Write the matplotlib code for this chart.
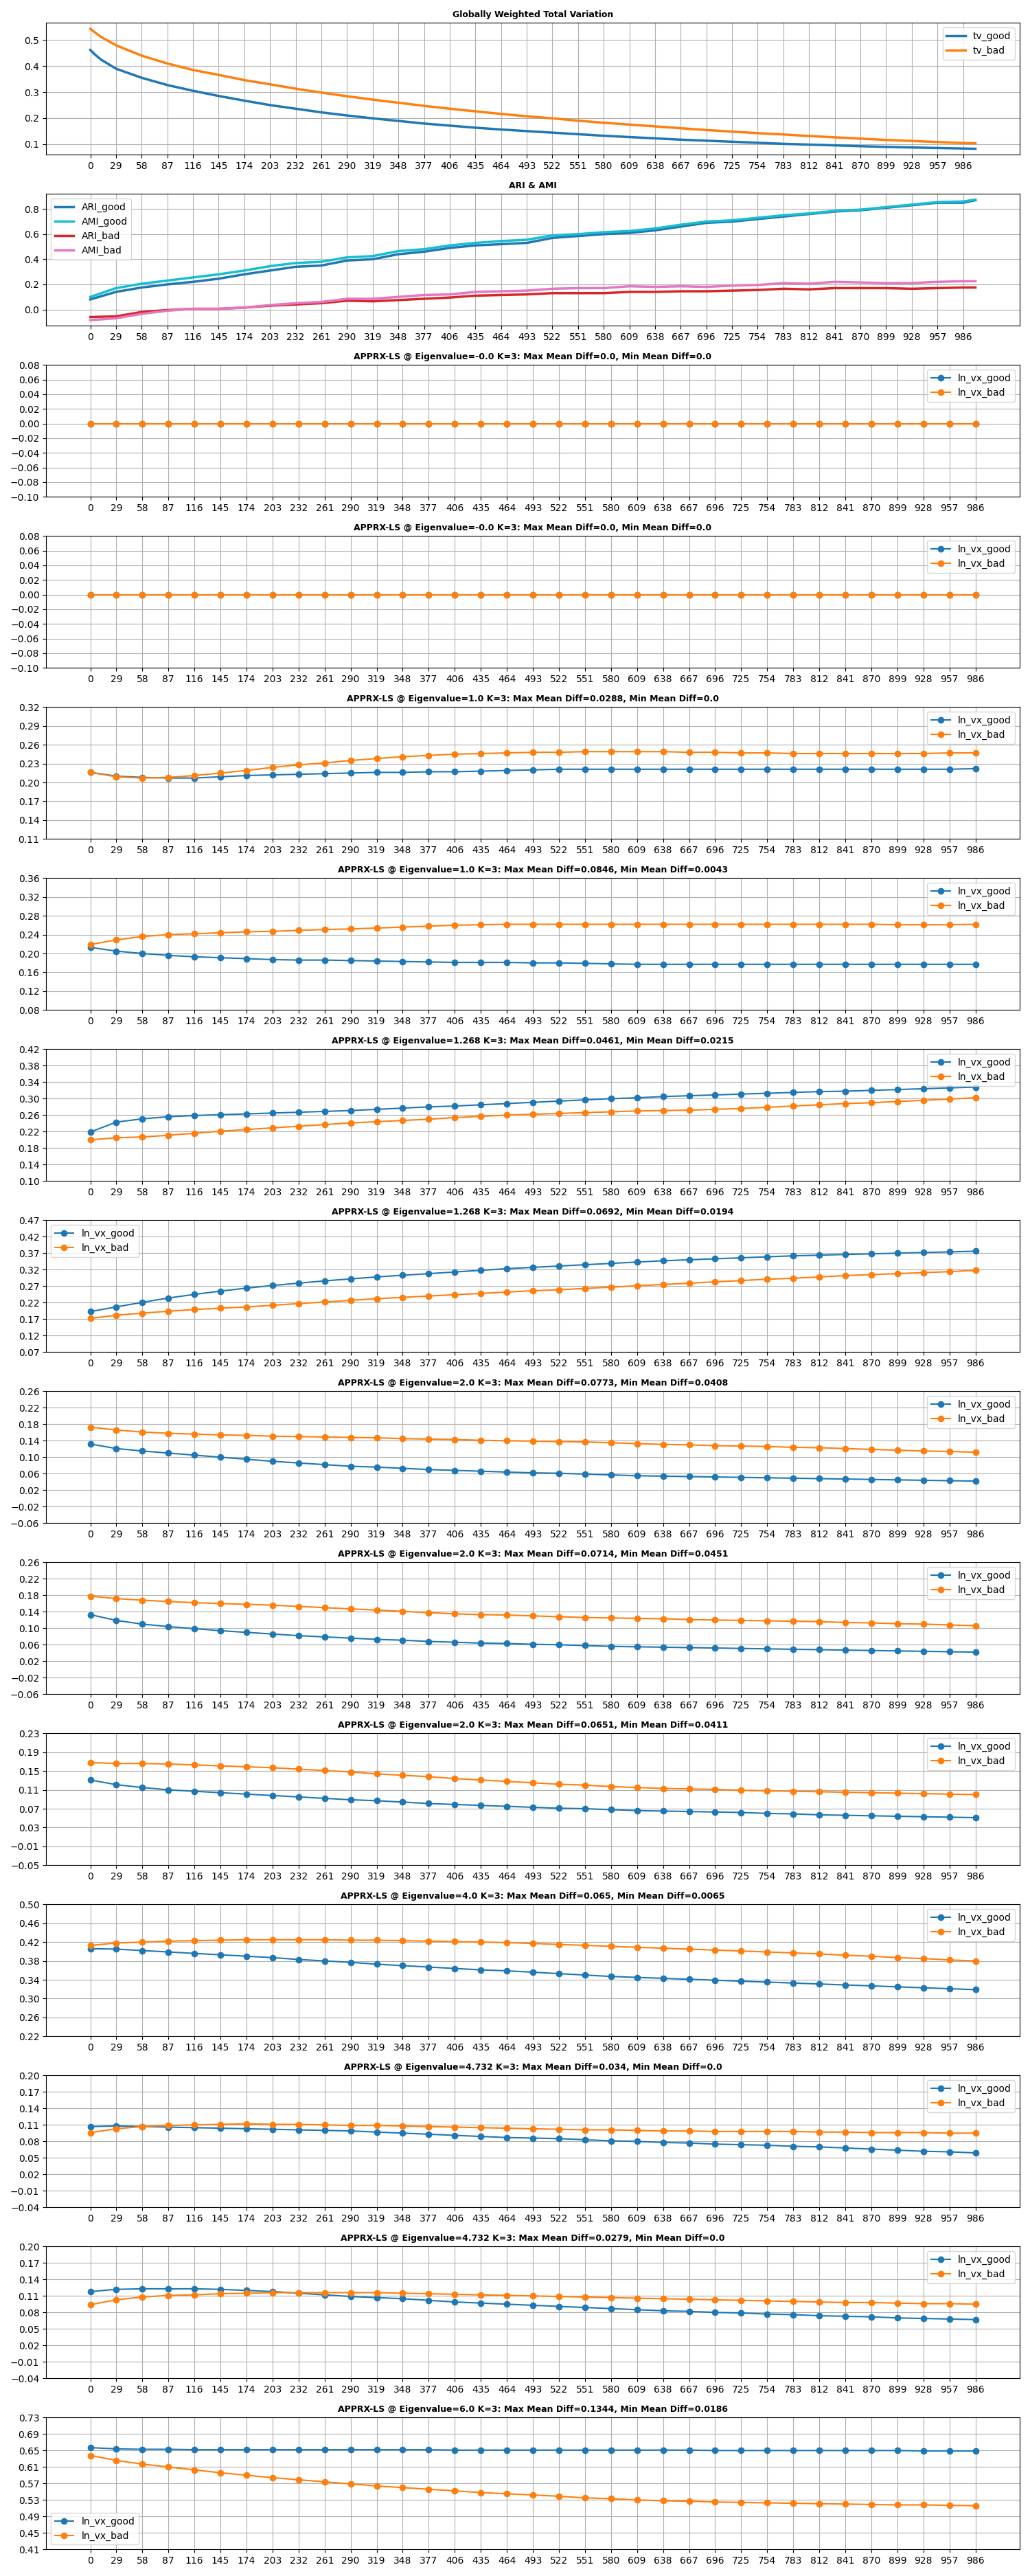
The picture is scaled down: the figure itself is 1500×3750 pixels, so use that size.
import numpy as np
import matplotlib
matplotlib.use("Agg")
import matplotlib.pyplot as plt

# --- data ---
tv_x = [0, 5, 12, 29, 58, 87, 116, 145, 174, 203, 232, 261, 290, 319, 348, 377, 406, 435, 464, 493,
        522, 551, 580, 609, 638, 667, 696, 725, 754, 783, 812, 841, 870, 899, 928, 957, 986, 1000]
tv_good = [0.462, 0.445, 0.425, 0.39, 0.355, 0.327, 0.305, 0.285, 0.267, 0.250, 0.236, 0.222, 0.210, 0.199,
           0.189, 0.179, 0.171, 0.163, 0.156, 0.150, 0.144, 0.138, 0.132, 0.127, 0.122, 0.117, 0.113,
           0.109, 0.105, 0.101, 0.098, 0.095, 0.092, 0.089, 0.087, 0.085, 0.083, 0.082]
tv_bad = [0.543, 0.530, 0.512, 0.48, 0.44, 0.41, 0.385, 0.366, 0.346, 0.330, 0.313, 0.298, 0.284, 0.271,
          0.259, 0.247, 0.236, 0.226, 0.216, 0.207, 0.199, 0.190, 0.182, 0.175, 0.168, 0.161, 0.154,
          0.148, 0.142, 0.137, 0.131, 0.126, 0.121, 0.116, 0.112, 0.108, 0.104, 0.103]

ari_x = tv_x[:1] + tv_x[3:]
ari_good = [0.08, 0.14, 0.175, 0.20, 0.22, 0.245, 0.28, 0.31, 0.34, 0.35, 0.39, 0.40, 0.44, 0.46, 0.49,
            0.51, 0.52, 0.53, 0.57, 0.585, 0.60, 0.61, 0.63, 0.66, 0.69, 0.70, 0.72, 0.74, 0.76, 0.78,
            0.79, 0.81, 0.83, 0.85, 0.85, 0.87]
ami_good = [0.10, 0.17, 0.205, 0.23, 0.255, 0.28, 0.31, 0.345, 0.37, 0.38, 0.415, 0.425, 0.465, 0.48,
            0.51, 0.53, 0.545, 0.555, 0.59, 0.60, 0.615, 0.625, 0.645, 0.675, 0.70, 0.71, 0.73, 0.75,
            0.765, 0.785, 0.795, 0.815, 0.835, 0.855, 0.86, 0.875]
ari_bad = [-0.06, -0.055, -0.02, -0.005, 0.005, 0.005, 0.015, 0.03, 0.04, 0.05, 0.07, 0.065, 0.075,
           0.085, 0.095, 0.11, 0.115, 0.12, 0.13, 0.13, 0.13, 0.14, 0.14, 0.145, 0.145, 0.15, 0.155,
           0.165, 0.16, 0.17, 0.17, 0.17, 0.165, 0.17, 0.175, 0.175]
ami_bad = [-0.085, -0.07, -0.035, -0.01, 0.005, 0.005, 0.015, 0.035, 0.05, 0.06, 0.085, 0.085, 0.10,
           0.115, 0.12, 0.14, 0.145, 0.15, 0.165, 0.17, 0.17, 0.185, 0.18, 0.185, 0.18, 0.19, 0.195,
           0.21, 0.205, 0.22, 0.215, 0.21, 0.21, 0.22, 0.225, 0.225]

steps = list(range(0, 987, 29))

titles = [
    "APPRX-LS @ Eigenvalue=-0.0 K=3: Max Mean Diff=0.0, Min Mean Diff=0.0",
    "APPRX-LS @ Eigenvalue=-0.0 K=3: Max Mean Diff=0.0, Min Mean Diff=0.0",
    "APPRX-LS @ Eigenvalue=1.0 K=3: Max Mean Diff=0.0288, Min Mean Diff=0.0",
    "APPRX-LS @ Eigenvalue=1.0 K=3: Max Mean Diff=0.0846, Min Mean Diff=0.0043",
    "APPRX-LS @ Eigenvalue=1.268 K=3: Max Mean Diff=0.0461, Min Mean Diff=0.0215",
    "APPRX-LS @ Eigenvalue=1.268 K=3: Max Mean Diff=0.0692, Min Mean Diff=0.0194",
    "APPRX-LS @ Eigenvalue=2.0 K=3: Max Mean Diff=0.0773, Min Mean Diff=0.0408",
    "APPRX-LS @ Eigenvalue=2.0 K=3: Max Mean Diff=0.0714, Min Mean Diff=0.0451",
    "APPRX-LS @ Eigenvalue=2.0 K=3: Max Mean Diff=0.0651, Min Mean Diff=0.0411",
    "APPRX-LS @ Eigenvalue=4.0 K=3: Max Mean Diff=0.065, Min Mean Diff=0.0065",
    "APPRX-LS @ Eigenvalue=4.732 K=3: Max Mean Diff=0.034, Min Mean Diff=0.0",
    "APPRX-LS @ Eigenvalue=4.732 K=3: Max Mean Diff=0.0279, Min Mean Diff=0.0",
    "APPRX-LS @ Eigenvalue=6.0 K=3: Max Mean Diff=0.1344, Min Mean Diff=0.0186",
]

zeros = [0.0] * 35
good_vals = [
    zeros, zeros,
    [0.216, 0.210, 0.208, 0.207, 0.207, 0.209, 0.211, 0.212, 0.213, 0.214, 0.215, 0.216, 0.216, 0.217, 0.217,
     0.218, 0.219, 0.220, 0.221, 0.221, 0.221, 0.221, 0.221, 0.221, 0.221, 0.221, 0.221, 0.221, 0.221, 0.221,
     0.221, 0.221, 0.221, 0.221, 0.222],
    [0.213, 0.205, 0.200, 0.196, 0.193, 0.191, 0.189, 0.187, 0.186, 0.186, 0.185, 0.184, 0.183, 0.182, 0.181,
     0.181, 0.181, 0.180, 0.180, 0.179, 0.178, 0.177, 0.177, 0.177, 0.177, 0.177, 0.177, 0.177, 0.177, 0.177,
     0.177, 0.177, 0.177, 0.177, 0.177],
    [0.219, 0.243, 0.251, 0.256, 0.259, 0.261, 0.263, 0.265, 0.267, 0.269, 0.271, 0.274, 0.277, 0.280, 0.282,
     0.285, 0.288, 0.291, 0.294, 0.297, 0.300, 0.302, 0.305, 0.307, 0.309, 0.311, 0.313, 0.315, 0.317, 0.318,
     0.320, 0.322, 0.324, 0.326, 0.328],
    [0.193, 0.207, 0.221, 0.234, 0.245, 0.255, 0.264, 0.272, 0.279, 0.286, 0.292, 0.298, 0.303, 0.308, 0.313,
     0.318, 0.323, 0.327, 0.331, 0.335, 0.339, 0.343, 0.347, 0.350, 0.353, 0.356, 0.359, 0.362, 0.364, 0.366,
     0.368, 0.370, 0.372, 0.374, 0.376],
    [0.132, 0.121, 0.115, 0.110, 0.105, 0.100, 0.095, 0.090, 0.086, 0.082, 0.078, 0.076, 0.073, 0.070, 0.068,
     0.066, 0.064, 0.062, 0.061, 0.059, 0.057, 0.055, 0.054, 0.053, 0.052, 0.051, 0.050, 0.049, 0.048, 0.047,
     0.046, 0.045, 0.044, 0.043, 0.042],
    [0.133, 0.119, 0.110, 0.104, 0.099, 0.094, 0.090, 0.086, 0.082, 0.079, 0.076, 0.073, 0.071, 0.068, 0.066,
     0.064, 0.063, 0.061, 0.060, 0.058, 0.056, 0.055, 0.054, 0.053, 0.052, 0.051, 0.050, 0.049, 0.048, 0.047,
     0.046, 0.045, 0.044, 0.043, 0.042],
    [0.131, 0.121, 0.115, 0.110, 0.107, 0.104, 0.101, 0.098, 0.095, 0.092, 0.089, 0.087, 0.084, 0.081, 0.079,
     0.077, 0.075, 0.073, 0.071, 0.070, 0.068, 0.066, 0.065, 0.064, 0.063, 0.062, 0.060, 0.059, 0.057, 0.056,
     0.055, 0.054, 0.053, 0.052, 0.051],
    [0.406, 0.405, 0.402, 0.399, 0.396, 0.393, 0.390, 0.387, 0.383, 0.380, 0.377, 0.373, 0.370, 0.367, 0.364,
     0.361, 0.359, 0.356, 0.353, 0.350, 0.347, 0.345, 0.343, 0.341, 0.339, 0.337, 0.335, 0.333, 0.331, 0.329,
     0.327, 0.325, 0.323, 0.321, 0.319],
    [0.107, 0.108, 0.107, 0.106, 0.105, 0.104, 0.103, 0.102, 0.101, 0.100, 0.099, 0.097, 0.095, 0.093, 0.091,
     0.089, 0.087, 0.086, 0.085, 0.083, 0.081, 0.080, 0.078, 0.077, 0.075, 0.074, 0.073, 0.071, 0.070, 0.068,
     0.066, 0.064, 0.062, 0.061, 0.059],
    [0.118, 0.122, 0.123, 0.123, 0.123, 0.122, 0.120, 0.118, 0.115, 0.112, 0.109, 0.107, 0.105, 0.102, 0.099,
     0.097, 0.095, 0.093, 0.091, 0.089, 0.087, 0.085, 0.083, 0.082, 0.080, 0.079, 0.077, 0.076, 0.074, 0.073,
     0.072, 0.070, 0.069, 0.068, 0.067],
    [0.657, 0.654, 0.653, 0.653, 0.652, 0.652, 0.652, 0.652, 0.652, 0.652, 0.652, 0.652, 0.652, 0.652, 0.651,
     0.651, 0.651, 0.651, 0.651, 0.651, 0.651, 0.651, 0.651, 0.651, 0.650, 0.650, 0.650, 0.650, 0.650, 0.650,
     0.650, 0.650, 0.649, 0.649, 0.649],
]
bad_vals = [
    zeros, zeros,
    [0.216, 0.209, 0.207, 0.208, 0.211, 0.215, 0.219, 0.224, 0.228, 0.231, 0.235, 0.238, 0.241, 0.243, 0.245,
     0.246, 0.247, 0.248, 0.248, 0.249, 0.249, 0.249, 0.249, 0.248, 0.248, 0.247, 0.247, 0.246, 0.246, 0.246,
     0.246, 0.246, 0.246, 0.247, 0.247],
    [0.219, 0.229, 0.236, 0.240, 0.242, 0.244, 0.246, 0.247, 0.249, 0.251, 0.252, 0.254, 0.256, 0.258, 0.260,
     0.261, 0.262, 0.262, 0.262, 0.262, 0.262, 0.262, 0.262, 0.262, 0.262, 0.262, 0.262, 0.262, 0.262, 0.262,
     0.262, 0.261, 0.261, 0.261, 0.262],
    [0.200, 0.205, 0.207, 0.211, 0.216, 0.221, 0.225, 0.229, 0.233, 0.237, 0.241, 0.244, 0.247, 0.250, 0.254,
     0.257, 0.260, 0.262, 0.264, 0.266, 0.268, 0.270, 0.271, 0.272, 0.274, 0.276, 0.279, 0.282, 0.285, 0.288,
     0.290, 0.293, 0.296, 0.299, 0.302],
    [0.172, 0.182, 0.188, 0.194, 0.199, 0.203, 0.207, 0.212, 0.217, 0.222, 0.227, 0.232, 0.236, 0.240, 0.244,
     0.248, 0.252, 0.256, 0.259, 0.263, 0.267, 0.271, 0.275, 0.279, 0.283, 0.287, 0.291, 0.294, 0.298, 0.302,
     0.305, 0.308, 0.311, 0.314, 0.318],
    [0.173, 0.166, 0.161, 0.158, 0.156, 0.154, 0.153, 0.151, 0.150, 0.149, 0.148, 0.147, 0.145, 0.144, 0.143,
     0.141, 0.140, 0.139, 0.138, 0.137, 0.135, 0.133, 0.131, 0.130, 0.128, 0.127, 0.126, 0.124, 0.123, 0.121,
     0.119, 0.117, 0.115, 0.114, 0.112],
    [0.178, 0.172, 0.168, 0.165, 0.162, 0.160, 0.158, 0.156, 0.153, 0.150, 0.147, 0.144, 0.141, 0.138, 0.135,
     0.133, 0.132, 0.130, 0.128, 0.126, 0.125, 0.124, 0.123, 0.121, 0.120, 0.119, 0.118, 0.117, 0.116, 0.114,
     0.113, 0.111, 0.110, 0.108, 0.106],
    [0.168, 0.166, 0.166, 0.165, 0.163, 0.161, 0.159, 0.157, 0.154, 0.151, 0.148, 0.144, 0.141, 0.138, 0.134,
     0.131, 0.128, 0.125, 0.122, 0.120, 0.117, 0.115, 0.113, 0.112, 0.111, 0.109, 0.108, 0.107, 0.106, 0.105,
     0.104, 0.103, 0.102, 0.101, 0.100],
    [0.413, 0.418, 0.420, 0.422, 0.423, 0.424, 0.425, 0.425, 0.425, 0.425, 0.424, 0.424, 0.423, 0.422, 0.421,
     0.420, 0.419, 0.417, 0.415, 0.413, 0.411, 0.409, 0.407, 0.405, 0.403, 0.401, 0.399, 0.397, 0.395, 0.392,
     0.390, 0.387, 0.385, 0.382, 0.380],
    [0.096, 0.103, 0.107, 0.109, 0.110, 0.111, 0.112, 0.111, 0.111, 0.110, 0.109, 0.109, 0.108, 0.107, 0.106,
     0.105, 0.104, 0.103, 0.102, 0.101, 0.101, 0.100, 0.099, 0.099, 0.098, 0.098, 0.098, 0.098, 0.097, 0.097,
     0.096, 0.096, 0.096, 0.095, 0.095],
    [0.094, 0.103, 0.108, 0.111, 0.112, 0.114, 0.115, 0.116, 0.116, 0.116, 0.116, 0.116, 0.115, 0.114, 0.113,
     0.112, 0.111, 0.110, 0.109, 0.108, 0.107, 0.106, 0.105, 0.104, 0.103, 0.102, 0.101, 0.100, 0.099, 0.098,
     0.098, 0.097, 0.096, 0.096, 0.095],
    [0.638, 0.626, 0.617, 0.610, 0.603, 0.596, 0.590, 0.584, 0.579, 0.574, 0.569, 0.564, 0.560, 0.556, 0.552,
     0.548, 0.545, 0.542, 0.539, 0.535, 0.533, 0.530, 0.528, 0.527, 0.525, 0.524, 0.523, 0.522, 0.521, 0.520,
     0.519, 0.518, 0.518, 0.517, 0.516],
]

# y tick ranges (start, stop, step) per lower panel
y_ranges = [(-0.10, 0.08, 0.02), (-0.10, 0.08, 0.02), (0.11, 0.32, 0.03), (0.08, 0.36, 0.04),
            (0.10, 0.42, 0.04), (0.07, 0.47, 0.05), (-0.06, 0.26, 0.04), (-0.06, 0.26, 0.04),
            (-0.05, 0.23, 0.04), (0.22, 0.50, 0.04), (-0.04, 0.20, 0.03), (-0.04, 0.20, 0.03),
            (0.41, 0.73, 0.04)]
legend_locs = ["upper right"] * 5 + ["upper left"] + ["upper right"] * 6 + ["lower left"]

fig, axes = plt.subplots(15, 1, figsize=(15, 37.5), dpi=100)

ax = axes[0]
ax.plot(tv_x, tv_good, lw=2.5, label="tv_good")
ax.plot(tv_x, tv_bad, lw=2.5, label="tv_bad")
ax.set_title("Globally Weighted Total Variation", fontsize=9, fontweight="bold")
ax.set_xticks(steps)
ax.set_xlim(-50, 1050)
ax.grid(True)
ax.legend(loc="upper right")

ax = axes[1]
ax.plot(ari_x, ari_good, lw=2.5, color="tab:blue", label="ARI_good")
ax.plot(ari_x, ami_good, lw=2.5, color="tab:cyan", label="AMI_good")
ax.plot(ari_x, ari_bad, lw=2.5, color="tab:red", label="ARI_bad")
ax.plot(ari_x, ami_bad, lw=2.5, color="tab:pink", label="AMI_bad")
ax.set_title("ARI & AMI", fontsize=9, fontweight="bold")
ax.set_xticks(steps)
ax.set_xlim(-50, 1050)
ax.set_ylim(-0.13, 0.92)
ax.grid(True)
ax.legend(loc="upper left")

for i, ax in enumerate(axes[2:]):
    ax.plot(steps, good_vals[i], marker="o", label="ln_vx_good")
    ax.plot(steps, bad_vals[i], marker="o", label="ln_vx_bad")
    ax.set_title(titles[i], fontsize=9, fontweight="bold")
    lo, hi, st = y_ranges[i]
    ax.set_yticks(np.round(np.arange(lo, hi + st / 2, st), 2))
    ax.set_ylim(lo, hi)
    ax.set_xticks(steps)
    ax.grid(True)
    ax.legend(loc=legend_locs[i])

plt.tight_layout()
plt.savefig("out.png")
